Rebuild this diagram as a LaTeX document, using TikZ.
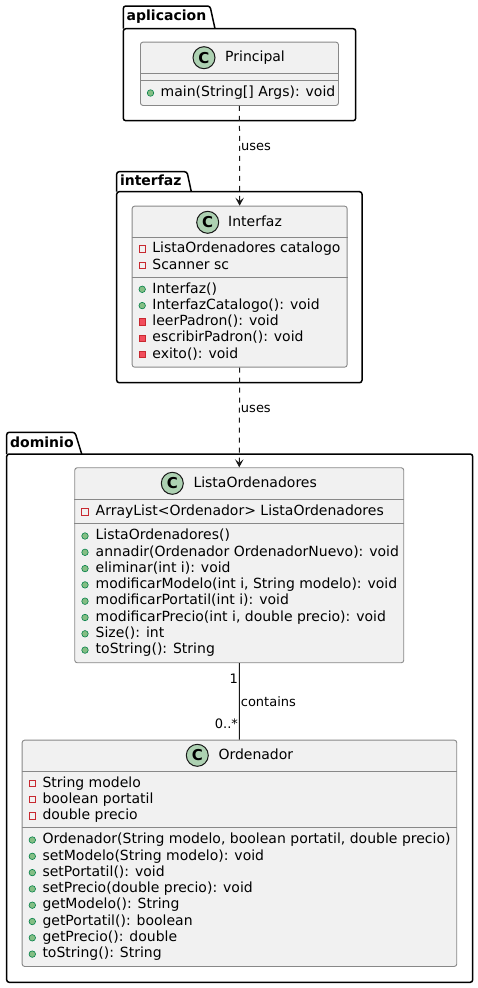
\documentclass[tikz,border=0pt]{standalone}
\usepackage{fontspec}
\setmainfont{DejaVu Sans}
\usetikzlibrary{arrows.meta,calc}
\definecolor{classbg}{HTML}{F1F1F1}
\definecolor{classborder}{HTML}{888888}
\definecolor{edgecol}{HTML}{181818}
\definecolor{spotfill}{HTML}{ADD1B2}
\definecolor{pubfill}{HTML}{84BE84}
\definecolor{pubdraw}{HTML}{038048}
\definecolor{privfill}{HTML}{F24D5C}
\definecolor{privdraw}{HTML}{C82930}

\begin{document}
\begin{tikzpicture}[x=1pt,y=-1pt,
    pkg/.style={draw=black,line width=1.5pt,rounded corners=2.5pt},
    pkgname/.style={anchor=west,inner sep=0pt,font=\fontsize{14}{16}\selectfont\bfseries},
    classbox/.style={draw=classborder,line width=0.9pt,fill=classbg,rounded corners=2.5pt,
                     anchor=north west,inner sep=0pt},
    classline/.style={draw=classborder,line width=0.9pt},
    spot/.style={circle,draw=edgecol,line width=1pt,fill=spotfill,minimum size=22pt,inner sep=0pt,
                 font=\fontsize{15}{15}\selectfont\bfseries},
    titletext/.style={anchor=west,inner sep=0pt,font=\fontsize{14}{16}\selectfont,
                      text height=10.5pt,text depth=3pt},
    member/.style={anchor=west,inner sep=0pt,font=\fontsize{14}{16}\selectfont,
                   text height=10.5pt,text depth=3pt},
    pubm/.style={circle,draw=pubdraw,fill=pubfill,line width=0.6pt,minimum size=6.5pt,inner sep=0pt},
    privf/.style={rectangle,draw=privdraw,fill=none,line width=0.8pt,minimum size=6.5pt,inner sep=0pt},
    privm/.style={rectangle,draw=privdraw,fill=privfill,line width=0.8pt,minimum size=6.5pt,inner sep=0pt},
    dep/.style={draw=edgecol,line width=1pt,dash pattern=on 5pt off 5pt,
                -{Stealth[length=8pt,width=8.5pt,inset=3.5pt]}},
    assoc/.style={draw=edgecol,line width=1pt},
    edgelabel/.style={inner sep=1pt,font=\fontsize{13}{15}\selectfont}]

  \useasboundingbox (0,0) rectangle (478,988);

  % packages
  \draw[pkg] (123.3,28.7) -- (123.3,6) -- (210,6) -- (215,28.7);
  \draw[pkg] (123.3,28.7) rectangle (355.7,120.7);
  \node[pkgname] (pkgAplicacion) at (126.5,16.5) {aplicacion};

  \draw[pkg] (116.7,191.7) -- (116.7,171.7) -- (187,171.7) -- (191.3,191.7);
  \draw[pkg] (116.7,191.7) rectangle (362,382.7);
  \node[pkgname] (pkgInterfaz) at (119.8,180.7) {interfaz};

  \draw[pkg] (6.7,454) -- (6.7,432.3) -- (75,432.3) -- (81.7,454);
  \draw[pkg] (6.7,454) rectangle (472.7,982.3);
  \node[pkgname] (pkgDominio) at (10,442) {dominio};

  % Principal
  \node[classbox,minimum width=198pt,minimum height=63.3pt] (principal) at (140,41.7) {};
  \draw[classline] (principal.west |- 0,73.3) -- (principal.east |- 0,73.3);
  \draw[classline] (principal.west |- 0,80.7) -- (principal.east |- 0,80.7);
  \node[spot] (principalC) at (204,57.7) {C};
  \node[titletext] (principalT) at (225,57.7) {Principal};
  \foreach \v/\t [count=\i from 0] in {pubm/main(String[] Args): void} {
    \node[\v] (principalI\i) at (150.5,{93+16.3*\i}) {};
    \node[member] (principalM\i) at (160.5,{93+16.3*\i}) {\t};
  }

  % Interfaz
  \node[classbox,minimum width=215pt,minimum height=161pt] (interfaz) at (131.7,205.7) {};
  \draw[classline] (interfaz.west |- 0,237.7) -- (interfaz.east |- 0,237.7);
  \draw[classline] (interfaz.west |- 0,277.3) -- (interfaz.east |- 0,277.3);
  \node[spot] (interfazC) at (207.7,222.3) {C};
  \node[titletext] (interfazT) at (228,222.3) {Interfaz};
  \foreach \v/\t [count=\i from 0] in {privf/ListaOrdenadores catalogo, privf/Scanner sc} {
    \node[\v] (interfazF\i) at (142.2,{249+16.3*\i}) {};
    \node[member] (interfazA\i) at (152.2,{249+16.3*\i}) {\t};
  }
  \foreach \v/\t [count=\i from 0] in {pubm/Interfaz(), pubm/InterfazCatalogo(): void,
      privm/leerPadron(): void, privm/escribirPadron(): void, privm/exito(): void} {
    \node[\v] (interfazI\i) at (142.2,{289.3+16.3*\i}) {};
    \node[member] (interfazM\i) at (152.2,{289.3+16.3*\i}) {\t};
  }

  % ListaOrdenadores
  \node[classbox,minimum width=329pt,minimum height=195pt] (lista) at (74.3,467.3) {};
  \draw[classline] (lista.west |- 0,499.3) -- (lista.east |- 0,499.3);
  \draw[classline] (lista.west |- 0,523.7) -- (lista.east |- 0,523.7);
  \node[spot] (listaC) at (172.3,483.3) {C};
  \node[titletext] (listaT) at (193.3,483.3) {ListaOrdenadores};
  \foreach \v/\t [count=\i from 0] in {privf/ArrayList<Ordenador> ListaOrdenadores} {
    \node[\v] (listaF\i) at (85,{511.7+16.3*\i}) {};
    \node[member] (listaA\i) at (95.5,{511.7+16.3*\i}) {\t};
  }
  \foreach \v/\t [count=\i from 0] in {pubm/ListaOrdenadores(),
      pubm/annadir(Ordenador OrdenadorNuevo): void, pubm/eliminar(int i): void,
      pubm/{modificarModelo(int i, String modelo): void}, pubm/modificarPortatil(int i): void,
      pubm/{modificarPrecio(int i, double precio): void}, pubm/Size(): int,
      pubm/toString(): String} {
    \node[\v] (listaI\i) at (85,{536+16.3*\i}) {};
    \node[member] (listaM\i) at (95.5,{536+16.3*\i}) {\t};
  }

  % Ordenador
  \node[classbox,minimum width=434.6pt,minimum height=226.3pt] (ordenador) at (21.7,739.7) {};
  \draw[classline] (ordenador.west |- 0,771.3) -- (ordenador.east |- 0,771.3);
  \draw[classline] (ordenador.west |- 0,827.3) -- (ordenador.east |- 0,827.3);
  \node[spot] (ordenadorC) at (197.3,755.3) {C};
  \node[titletext] (ordenadorT) at (218.3,755.3) {Ordenador};
  \foreach \v/\t [count=\i from 0] in {privf/String modelo, privf/boolean portatil,
      privf/double precio} {
    \node[\v] (ordenadorF\i) at (32.3,{783.3+16.3*\i}) {};
    \node[member] (ordenadorA\i) at (42.3,{783.3+16.3*\i}) {\t};
  }
  \foreach \v/\t [count=\i from 0] in {pubm/{Ordenador(String modelo, boolean portatil, double precio)},
      pubm/setModelo(String modelo): void, pubm/setPortatil(): void,
      pubm/setPrecio(double precio): void, pubm/getModelo(): String,
      pubm/getPortatil(): boolean, pubm/getPrecio(): double, pubm/toString(): String} {
    \node[\v] (ordenadorI\i) at (32.3,{840+16.3*\i}) {};
    \node[member] (ordenadorM\i) at (42.3,{840+16.3*\i}) {\t};
  }

  % relations
  \draw[dep] (principal.south) -- node[edgelabel,pos=0.41,anchor=west] (usesA) {uses} (interfaz.north);
  \draw[dep] (interfaz.south) -- node[edgelabel,pos=0.41,anchor=west] (usesB) {uses} (lista.north);
  \draw[assoc] (lista.south) -- node[edgelabel,midway,anchor=west] (contains) {contains}
    node[edgelabel,pos=0.2,anchor=east] (multOne) {1}
    node[edgelabel,pos=0.79,anchor=east] (multMany) {0..*} (ordenador.north);
\end{tikzpicture}
\end{document}
